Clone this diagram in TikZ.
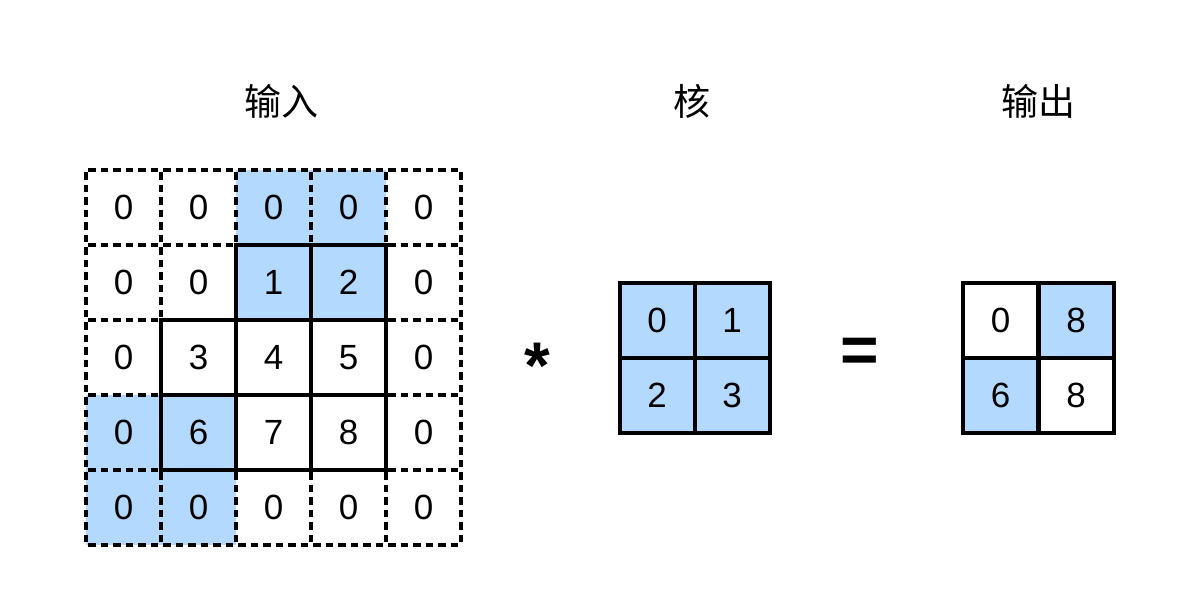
\documentclass[tikz,border=0pt]{standalone}
\usepackage{fontspec}
\setmainfont{Liberation Sans}
\newfontfamily\cjk{Noto Sans CJK SC}
\definecolor{cellblue}{RGB}{179,217,255}
\begin{document}
\begin{tikzpicture}[x=1pt,y=-1pt,
  cell/.style={minimum size=75pt,inner sep=0pt,font=\fontsize{35}{40}\selectfont},
  dline/.style={line width=3.4pt,dash pattern=on 7.5pt off 5pt,dash phase=-2pt},
  sline/.style={line width=4pt},
  scell/.style={cell,draw,sline},
  lbl/.style={font=\cjk\fontsize{37}{42}\selectfont,inner sep=0pt},
  op/.style={inner sep=0pt,font=\bfseries\fontsize{66}{70}\selectfont}]
\useasboundingbox (0,0) rectangle (1200,600);
% input background fills
\foreach \r/\c in {0/2,0/3,1/2,1/3,3/0,3/1,4/0,4/1}
  \fill[cellblue] (86+75*\c,170+75*\r) rectangle ++(75,75);
% input cells
\def\vals{{{0,0,0,0,0},{0,0,1,2,0},{0,3,4,5,0},{0,6,7,8,0},{0,0,0,0,0}}}
\foreach \r in {0,...,4}{
  \foreach \c in {0,...,4}{
    \pgfmathsetmacro\v{int(\vals[\r][\c])}
    \node[cell] (in-\r-\c) at (123.5+75*\c,207.5+75*\r) {\v};
  }
}
% dashed grid, one segment per cell edge
\foreach \k in {0,...,5}{
  \foreach \c in {0,...,4}{
    \draw[dline] (86+75*\c,170+75*\k) -- ++(75,0);
    \draw[dline] (86+75*\k,170+75*\c) -- ++(0,75);
  }
}
% solid cells of the input
\foreach \r/\c in {1/2,1/3,2/1,2/2,2/3,3/1,3/2,3/3}
  \draw[sline] (in-\r-\c.north west) rectangle (in-\r-\c.south east);
% labels
\node[lbl] (lin) at (281,101) {输入};
\node[lbl] (lk) at (692,101) {核};
\node[lbl] (lout) at (1038,101) {输出};
% operators
\node[op] (star) at (537,366) {*};
\node[op] (eq) at (860,355) {=};
% kernel
\node[scell,fill=cellblue] (k-0-0) at (657,320.5) {0};
\node[scell,fill=cellblue] (k-0-1) at (732,320.5) {1};
\node[scell,fill=cellblue] (k-1-0) at (657,395.5) {2};
\node[scell,fill=cellblue] (k-1-1) at (732,395.5) {3};
% output
\node[scell] (o-0-0) at (1000.5,320.5) {0};
\node[scell,fill=cellblue] (o-0-1) at (1076,320.5) {8};
\node[scell,fill=cellblue] (o-1-0) at (1000.5,395.5) {6};
\node[scell] (o-1-1) at (1076,395.5) {8};
\end{tikzpicture}
\end{document}
